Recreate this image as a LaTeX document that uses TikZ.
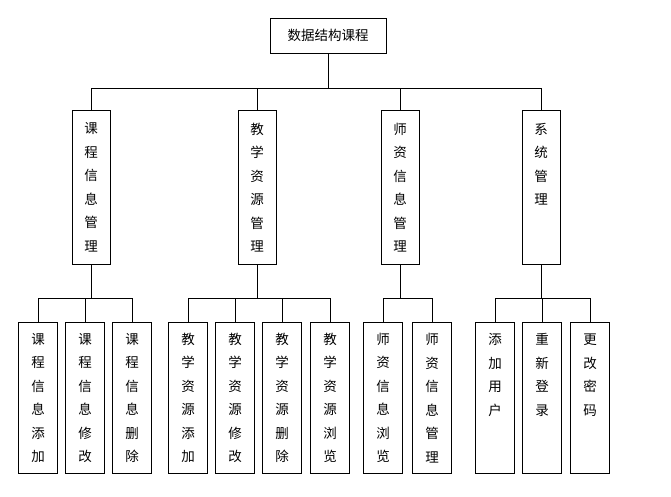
\documentclass[tikz,border=0pt]{standalone}
\usepackage{fontspec}
\setmainfont{Noto Sans CJK SC}
\begin{document}
\begin{tikzpicture}[x=1pt,y=-1pt,
 box/.style={draw,line width=0.9pt,inner sep=0pt,font=\fontsize{13.5}{23.5}\selectfont,align=center},
 ln/.style={line width=0.9pt}]
\useasboundingbox[fill=white] (0,0) rectangle (671,496);
\node[box,minimum width=116pt,minimum height=35pt] (root) at (328,35.5) {数据结构课程};
\foreach \n/\x/\t in {a/91/课\\程\\信\\息\\管\\理, b/257/教\\学\\资\\源\\管\\理, c/400/师\\资\\信\\息\\管\\理, d/541/系\\统\\管\\理\\\mbox{}\\\mbox{}}{
 \node[box,minimum width=38pt,minimum height=154pt,anchor=north] (\n) at (\x,110) {\t};
 \draw[ln] (root.south) |- (\x,88) -- (\n.north);
}
\foreach \p/\n/\x/\t in {a/a1/38/课\\程\\信\\息\\添\\加, a/a2/85/课\\程\\信\\息\\修\\改, a/a3/132/课\\程\\信\\息\\删\\除,
 b/b1/188/教\\学\\资\\源\\添\\加, b/b2/235/教\\学\\资\\源\\修\\改, b/b3/282/教\\学\\资\\源\\删\\除, b/b4/330/教\\学\\资\\源\\浏\\览,
 c/c1/383/师\\资\\信\\息\\浏\\览, c/c2/432/师\\资\\信\\息\\管\\理,
 d/d1/495/添\\加\\用\\户\\\mbox{}\\\mbox{}, d/d2/542/重\\新\\登\\录\\\mbox{}\\\mbox{}, d/d3/590/更\\改\\密\\码\\\mbox{}\\\mbox{}}{
 \node[box,minimum width=39pt,minimum height=151pt,anchor=north] (\n) at (\x,322) {\t};
 \draw[ln] (\p.south) |- (\x,298) -- (\n.north);
}
\end{tikzpicture}
\end{document}
